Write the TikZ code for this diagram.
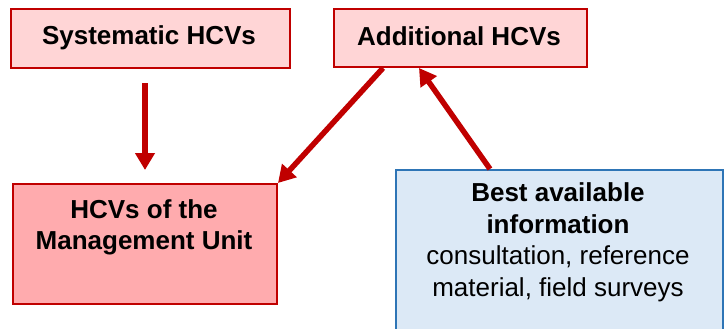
\documentclass[tikz,border=0pt]{standalone}
\usepackage{fontspec}
\setmainfont{Liberation Sans}
\usetikzlibrary{arrows.meta}
\definecolor{hred}{HTML}{C00000}
\definecolor{pinkA}{HTML}{FFD5D6}
\definecolor{pinkB}{HTML}{FFABAE}
\definecolor{blueF}{HTML}{DCE9F6}
\definecolor{blueB}{HTML}{2E75B6}
\tikzset{
  redbox/.style={draw=hred, line width=2pt, inner sep=0pt, rectangle},
  bluebox/.style={draw=blueB, fill=blueF, line width=2pt, inner sep=0pt, rectangle},
  lbl/.style={align=center, inner sep=0pt, font=\fontsize{26}{31.5}\selectfont},
  arr/.style={draw=hred, line width=5.5pt, -{Triangle[length=17pt,width=19pt]}}
}
\begin{document}
\begin{tikzpicture}[x=1pt,y=-1pt]
\clip (0,0) rectangle (725,329);
\fill[white] (0,0) rectangle (725,329);
\node[redbox, fill=pinkA, minimum width=279pt, minimum height=59pt, anchor=north west] (sys) at (10,8) {};
\node[redbox, fill=pinkA, minimum width=253pt, minimum height=58pt, anchor=north west] (add) at (333,8) {};
\node[redbox, fill=pinkB, minimum width=264pt, minimum height=120pt, anchor=north west] (mu) at (12,183) {};
\node[bluebox, minimum width=327pt, minimum height=170pt, anchor=north west] (info) at (395,169) {};
\node[lbl] (tsys) at (149,38) {\bfseries Systematic HCVs};
\node[lbl] (tadd) at (459,36) {\bfseries Additional HCVs};
\node[lbl] (tmu) at (144,227.5) {\bfseries HCVs of the\\\bfseries Management Unit};
\node[lbl] (tinfo) at (558,242.5) {\bfseries Best available\\\bfseries information\\consultation, reference\\material, field surveys};
\draw[arr, shorten <=14pt, shorten >=13pt] (sys.south -| mu.north) -- (mu.north);
\draw[arr] ([xshift=50pt]add.south west) -- (mu.north east);
\draw[arr] ([xshift=95pt]info.north west) -- ([xshift=86pt]add.south west);
\end{tikzpicture}
\end{document}
